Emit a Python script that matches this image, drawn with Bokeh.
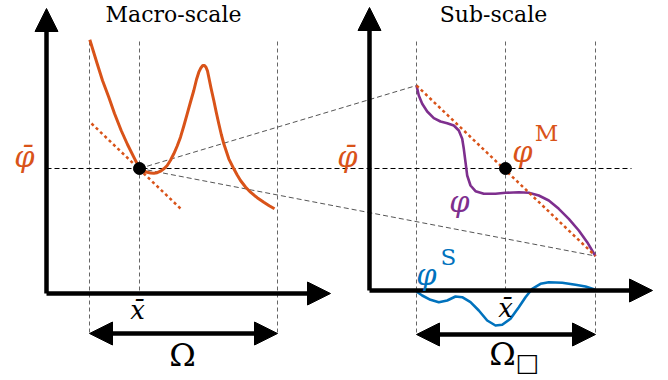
from bokeh.plotting import figure
from bokeh.models import Range1d, Arrow, NormalHead, Label
from bokeh.embed import file_html
from bokeh.resources import INLINE

# ---------------- data ----------------
# macro-scale field (orange, left panel)
macro_x = [89.3, 96.7, 102.0, 108.3, 114.0, 120.7, 127.0, 133.3, 139.0, 143.0, 146.7, 150.0, 153.3,
           156.7, 160.0, 163.3, 166.7, 170.0, 173.3, 176.7, 180.0, 183.3, 186.7, 190.0, 193.3,
           196.0, 198.3, 200.5, 202.3, 204.0, 205.5, 207.0, 208.3, 210.5, 213.3, 215.8, 218.3,
           220.8, 223.3, 228.3, 233.3, 236.7, 240.0, 245.0, 250.0, 256.7, 263.3, 268.7, 274.0]
macro_y = [39.3, 63.3, 80.0, 96.7, 113.0, 130.0, 144.0, 156.7, 167.7, 170.5, 171.7, 172.5, 172.7,
           172.2, 170.7, 168.3, 165.0, 159.8, 153.3, 145.5, 136.7, 125.5, 113.3, 101.5, 90.0,
           79.0, 71.7, 67.2, 65.0, 65.0, 66.7, 70.5, 76.7, 87.5, 100.0, 112.0, 123.3,
           134.0, 143.3, 158.3, 168.3, 174.5, 180.0, 186.5, 191.7, 197.2, 201.7, 205.2, 208.3]
# sub-scale full field phi (purple, right panel)
sub_x = [416.0, 418.3, 421.7, 426.7, 433.3, 440.0, 446.7, 453.3, 458.3, 461.7, 463.3, 465.0,
         466.7, 470.0, 475.0, 483.3, 495.0, 505.0, 518.3, 528.3, 538.3, 548.3, 558.3, 568.3,
         578.3, 586.7, 595.0]
sub_y = [85.0, 95.0, 103.3, 111.0, 117.7, 121.0, 122.7, 125.0, 130.0, 138.3, 148.3, 161.7,
         175.0, 185.0, 190.7, 193.3, 193.3, 192.3, 191.7, 192.3, 195.0, 200.0, 208.3, 218.3,
         230.0, 241.7, 255.7]
# sub-scale fluctuation phi^S (blue)
fluct_x = [416.0, 421.7, 430.0, 438.3, 446.7, 455.0, 461.7, 470.0, 478.3, 486.7, 495.0, 501.7,
           510.0, 518.3, 525.0, 531.7, 540.0, 548.3, 561.7, 575.0, 585.0, 595.0]
fluct_y = [291.0, 295.0, 299.3, 301.7, 300.0, 296.0, 296.7, 301.7, 310.0, 320.0, 325.0, 324.3,
           318.3, 306.7, 296.7, 288.3, 283.3, 281.7, 282.3, 284.3, 286.0, 289.3]
# macro tangent (linearisation) and sub-scale linear part phi^M
tangent_x = [91.0, 181.0]
tangent_y = [123.0, 209.0]
phiM_x = [416.0, 595.0]
phiM_y = [85.0, 255.5]
# key points
macro_xbar, sub_xbar, phi_bar = 139.0, 505.0, 168.0
macro_omega = [89.0, 277.0]
sub_omega = [416.0, 595.0]
guide_top = 41.0
macro_axis = dict(x0=46.0, y0=293.0, x1=330.0, y1=8.0)
sub_axis = dict(x0=369.0, y0=290.0, x1=652.0, y1=7.0)
omega_y = [333.0, 334.0]

ORANGE = "#D95319"
PURPLE = "#7E2F8E"
BLUE = "#0072BD"
SERIF = "DejaVu Serif"

p = figure(width=668, height=380, x_range=Range1d(0, 668), y_range=Range1d(380, 0),
           output_backend="svg", toolbar_location=None, min_border=0,
           x_axis_location=None, y_axis_location=None, outline_line_color=None)
p.xgrid.visible = False
p.ygrid.visible = False
p.background_fill_color = "white"
p.border_fill_color = "white"

GUIDE = dict(line_color="#666666", line_width=1, line_dash="4 3")
# vertical guide lines
for xg, yb in [(macro_omega[0], omega_y[0]), (macro_xbar, macro_axis["y0"]), (macro_omega[1], omega_y[0]),
               (sub_omega[0], omega_y[1]), (sub_xbar, sub_axis["y0"]), (sub_omega[1], omega_y[1])]:
    p.line([xg, xg], [guide_top, yb], **GUIDE)
# horizontal phi-bar line
p.line([macro_axis["x0"], 631], [phi_bar, phi_bar], line_color="black", line_width=1.1, line_dash="5 3")
# connecting lines
p.line([macro_xbar, phiM_x[0]], [phi_bar, phiM_y[0]], line_color="#555555", line_width=1, line_dash="5 3")
p.line([macro_xbar, phiM_x[1]], [phi_bar, phiM_y[1]], line_color="#555555", line_width=1, line_dash="5 3")

# curves
p.line(macro_x, macro_y, line_color=ORANGE, line_width=3, line_join="round")
p.line(tangent_x, tangent_y, line_color=ORANGE, line_width=2.5, line_dash="3 3")
p.line(sub_x, sub_y, line_color=PURPLE, line_width=2.6, line_join="round")
p.line(phiM_x, phiM_y, line_color=ORANGE, line_width=2.5, line_dash="3 3")
p.line(fluct_x, fluct_y, line_color=BLUE, line_width=2.6, line_join="round")
p.scatter([macro_xbar, sub_xbar], [phi_bar, phi_bar], size=12, color="black")

# axes with arrowheads
def arrow(x0, y0, x1, y1, both=False):
    head = lambda: NormalHead(size=23, fill_color="black", line_color="black", line_width=1)
    kw = dict(end=head(), x_start=x0, y_start=y0, x_end=x1, y_end=y1,
              line_width=4.5, line_color="black")
    kw["start"] = head() if both else None
    p.add_layout(Arrow(**kw))

for ax in (macro_axis, sub_axis):
    arrow(ax["x0"], ax["y0"], ax["x0"], ax["y1"])
    arrow(ax["x0"], ax["y0"], ax["x1"], ax["y0"])
arrow(macro_omega[0], omega_y[0], macro_omega[1], omega_y[0], both=True)
arrow(sub_omega[0], omega_y[1], sub_omega[1], omega_y[1], both=True)

def label(x, y, text, size, color="black", style="normal", font=SERIF):
    p.add_layout(Label(x=x, y=y, text=text, text_font=font, text_font_size=f"{size}px",
                       text_color=color, text_font_style=style,
                       text_align="center", text_baseline="middle"))

label(173, 14, "Macro-scale", 22)
label(493, 14, "Sub-scale", 22)
label(24, 156, "φ\u0304", 29, ORANGE, "italic")
label(347, 156, "φ\u0304", 29, ORANGE, "italic")
label(522, 151, "φ", 29, ORANGE, "italic")
label(546, 132, "M", 23, ORANGE)
label(459, 201, "φ", 29, PURPLE, "italic")
label(426, 274, "φ", 29, BLUE, "italic")
label(448, 256, "S", 23, BLUE)
label(137, 309, "x\u0304", 26, "black", "italic")
label(505, 307, "x\u0304", 26, "black", "italic")
label(182, 354, "Ω", 32)
label(502, 353, "Ω", 32)
label(527, 362, "□", 25, font="DejaVu Sans")

open("out.html", "w").write(file_html(p, INLINE))
